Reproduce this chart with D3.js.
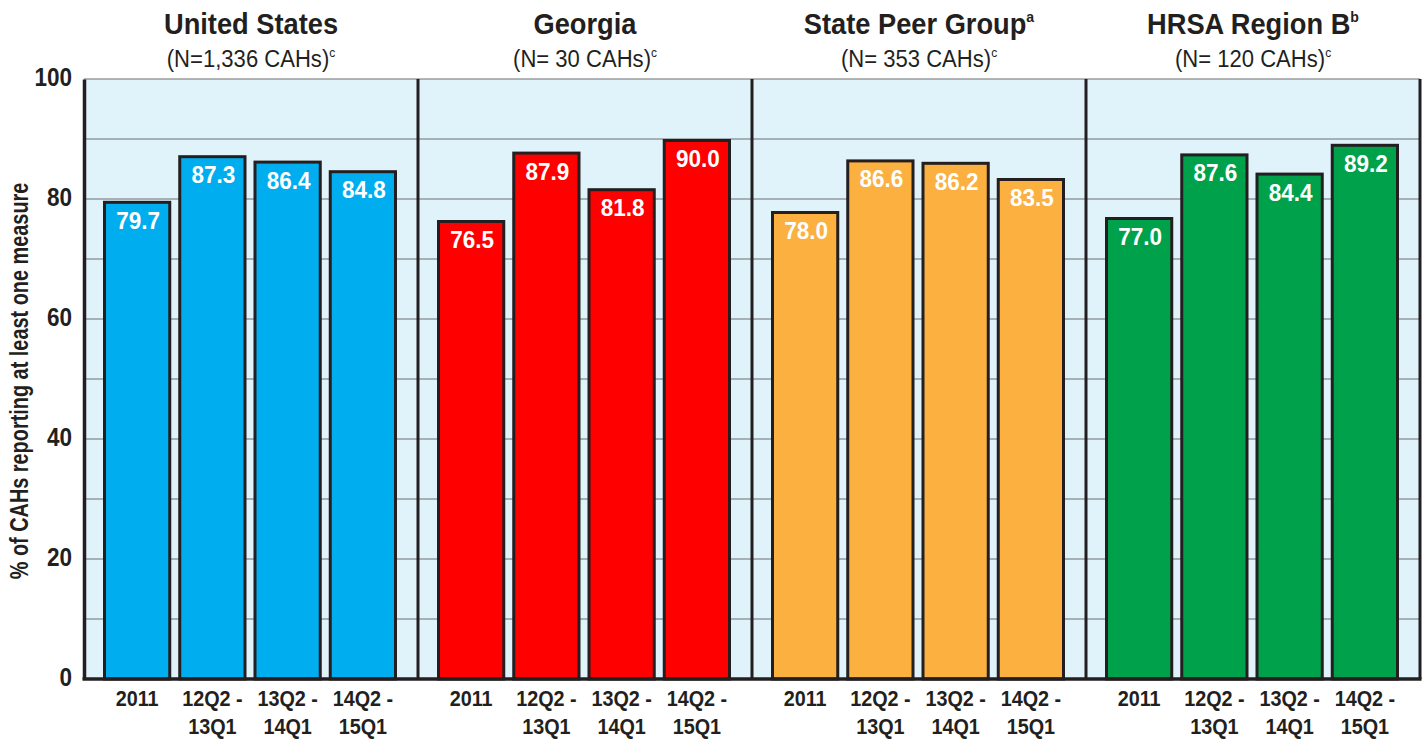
<!DOCTYPE html>
<html>
<head>
<meta charset="utf-8">
<script src="https://cdn.jsdelivr.net/npm/d3@7"></script>
<style>
  body { margin: 0; background: #fff; }
  text { font-family: "Liberation Sans", Arial, sans-serif; }
</style>
</head>
<body>
<div id="chart"></div>
<script>
// data
const groups = ['United States', 'Georgia', 'State Peer Group', 'HRSA Region B'];
const groupSup = ['', '', 'a', 'b'];
const groupN = ['(N=1,336 CAHs)', '(N= 30 CAHs)', '(N= 353 CAHs)', '(N= 120 CAHs)'];
const periods = [['2011'], ['12Q2 -', '13Q1'], ['13Q2 -', '14Q1'], ['14Q2 -', '15Q1']];
const usValues = [79.7, 87.3, 86.4, 84.8];
const georgiaValues = [76.5, 87.9, 81.8, 90.0];
const peerValues = [78.0, 86.6, 86.2, 83.5];
const regionValues = [77.0, 87.6, 84.4, 89.2];
const groupColors = ['#00aeef', '#ff0000', '#fbb040', '#00a14b'];
const yTicks = [0, 20, 40, 60, 80, 100];

const allValues = [usValues, georgiaValues, peerValues, regionValues];

const width = 1426;
const height = 740;
const margin = { top: 79, right: 6, bottom: 61, left: 84 };
const ink = '#231f20';

const svg = d3.select('#chart')
    .append('svg')
    .attr('width', width)
    .attr('height', height);

const y = d3.scaleLinear().domain([0, 100]).range([height - margin.bottom, margin.top]);

const xGroup = d3.scaleBand()
    .domain(groups)
    .range([margin.left, width - margin.right])
    .padding(0);

const xPeriod = d3.scaleBand()
    .domain(d3.range(periods.length))
    .range([19, xGroup.bandwidth() - 21])
    .paddingInner(0.093)
    .paddingOuter(0);

// squeeze text horizontally to look like a condensed face
const squeeze = (x, yy, sx) => `translate(${x}, ${yy}) scale(${sx}, 1)`;

// background
svg.append('rect')
    .attr('x', margin.left)
    .attr('y', y(100))
    .attr('width', width - margin.right - margin.left)
    .attr('height', y(0) - y(100))
    .attr('fill', '#e1f3fa');

// gridlines every 10
svg.append('g')
    .selectAll('line')
    .data(d3.range(10, 101, 10))
    .enter().append('line')
    .attr('x1', margin.left)
    .attr('x2', width - margin.right)
    .attr('y1', d => y(d))
    .attr('y2', d => y(d))
    .attr('stroke', '#6d6e71')
    .attr('stroke-width', 1.2);

// bars
const panel = svg.selectAll('.panel')
    .data(groups)
    .enter().append('g')
    .attr('class', 'panel')
    .attr('transform', d => `translate(${xGroup(d)}, 0)`);

panel.each(function (g, gi) {
    const p = d3.select(this);
    const vals = allValues[gi];
    const mid = i => xPeriod(i) + xPeriod.bandwidth() / 2;

    p.selectAll('rect.bar')
        .data(vals)
        .enter().append('rect')
        .attr('class', 'bar')
        .attr('x', (d, i) => xPeriod(i) + 1.5)
        .attr('width', xPeriod.bandwidth() - 3)
        .attr('y', d => y(d) + 1.5)
        .attr('height', d => y(0) - y(d) - 1.5)
        .attr('fill', groupColors[gi])
        .attr('stroke', ink)
        .attr('stroke-width', 3);

    p.selectAll('text.val')
        .data(vals)
        .enter().append('text')
        .attr('class', 'val')
        .attr('transform', (d, i) => squeeze(mid(i) + 1, y(d) + 28, 0.92))
        .attr('text-anchor', 'middle')
        .attr('font-size', 24.5)
        .attr('font-weight', 'bold')
        .attr('fill', '#fff')
        .text(d => d.toFixed(1));

    // period labels
    const lab = p.selectAll('text.period')
        .data(periods)
        .enter().append('text')
        .attr('class', 'period')
        .attr('transform', (d, i) => squeeze(mid(i), y(0) + 27, 0.9))
        .attr('text-anchor', 'middle')
        .attr('font-size', 22)
        .attr('font-weight', 'bold')
        .attr('fill', ink);
    lab.selectAll('tspan')
        .data(d => d)
        .enter().append('tspan')
        .attr('x', 0)
        .attr('dy', (d, i) => i === 0 ? 0 : 28)
        .text(d => d);

    // titles
    const cx = xGroup.bandwidth() / 2;
    const t = p.append('text')
        .attr('transform', squeeze(cx, 34, 0.94))
        .attr('text-anchor', 'middle')
        .attr('font-size', 29)
        .attr('font-weight', 'bold')
        .attr('fill', ink);
    t.append('tspan').text(g);
    if (groupSup[gi]) {
        t.append('tspan')
            .attr('font-size', 15)
            .attr('dy', -12)
            .text(groupSup[gi]);
    }
    const s = p.append('text')
        .attr('transform', squeeze(cx, 67, 0.92))
        .attr('text-anchor', 'middle')
        .attr('font-size', 24)
        .attr('fill', ink);
    s.append('tspan').text(groupN[gi]);
    s.append('tspan')
        .attr('font-size', 13)
        .attr('dy', -10)
        .text('c');
});

// panel dividers and frame
svg.append('g')
    .selectAll('line')
    .data(groups.slice(1))
    .enter().append('line')
    .attr('x1', d => xGroup(d))
    .attr('x2', d => xGroup(d))
    .attr('y1', y(100))
    .attr('y2', y(0))
    .attr('stroke', ink)
    .attr('stroke-width', 3);

svg.append('line')
    .attr('x1', width - margin.right)
    .attr('x2', width - margin.right)
    .attr('y1', y(100))
    .attr('y2', y(0))
    .attr('stroke', ink)
    .attr('stroke-width', 3);

// y axis
const yAxis = svg.append('g')
    .attr('transform', `translate(${margin.left}, 0)`)
    .call(d3.axisLeft(y).tickValues(yTicks).tickSize(0).tickPadding(12));
yAxis.select('.domain')
    .attr('stroke', ink)
    .attr('stroke-width', 3.5);
yAxis.selectAll('.tick text')
    .attr('x', null)
    .attr('dy', null)
    .attr('transform', squeeze(-12, 6, 0.85))
    .attr('font-size', 26.5)
    .attr('font-weight', 'bold')
    .attr('fill', ink)
    .attr('font-family', null);

// bottom line
svg.append('line')
    .attr('x1', margin.left - 1.5)
    .attr('x2', width - margin.right + 1.5)
    .attr('y1', y(0))
    .attr('y2', y(0))
    .attr('stroke', ink)
    .attr('stroke-width', 3.5);

// y axis title
svg.append('text')
    .attr('transform', `translate(28, ${(y(0) + y(100)) / 2 + 2}) rotate(-90) scale(0.78, 1)`)
    .attr('text-anchor', 'middle')
    .attr('font-size', 25.5)
    .attr('font-weight', 'bold')
    .attr('fill', ink)
    .text('% of CAHs reporting at least one measure');
</script>
</body>
</html>
